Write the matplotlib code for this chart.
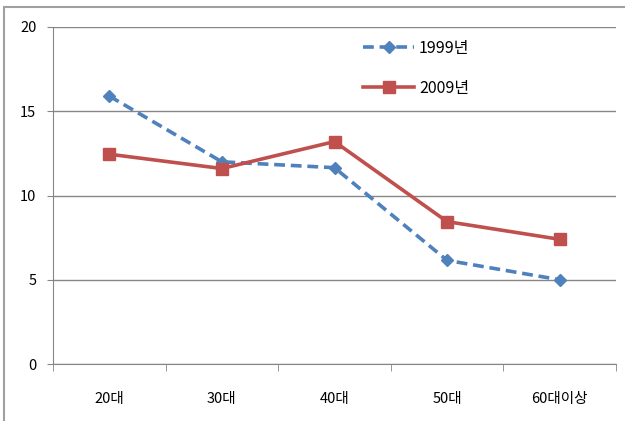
import matplotlib
matplotlib.use("Agg")
import matplotlib.pyplot as plt
from matplotlib.patches import Rectangle

plt.rcParams['font.family'] = ['Noto Sans CJK KR', 'DejaVu Sans']

# data
categories = ['20대', '30대', '40대', '50대', '60대이상']
y1999 = [15.9, 12.0, 11.65, 6.15, 5.0]
y2009 = [12.45, 11.6, 13.2, 8.45, 7.4]
series_names = ['1999년', '2009년']
yticks = [0, 5, 10, 15, 20]

fig = plt.figure(figsize=(6.25, 4.21), dpi=100)
ax = fig.add_axes([53/625, 1 - 364/421, 563/625, 337/421])

x = list(range(len(categories)))
ax.plot(x, y1999, color='#4F81BD', linestyle=(0, (3, 1.6)), linewidth=2.6,
        marker='D', markersize=6, label=series_names[0])
ax.plot(x, y2009, color='#C0504D', linewidth=2.6,
        marker='s', markersize=8, label=series_names[1])

ax.set_xlim(-0.5, len(categories) - 0.5)
ax.set_ylim(0, 20)
ax.set_yticks(yticks)
ax.set_yticklabels([str(v) for v in yticks], fontsize=10.5)
ax.set_xticks(x)
ax.set_xticklabels(categories, fontsize=10.5)
ax.set_xticks([i - 0.5 for i in range(len(categories) + 1)], minor=True)
ax.tick_params(axis='x', which='major', length=0, pad=20)
ax.tick_params(axis='x', which='minor', length=5, color='#868686')
ax.tick_params(axis='y', length=4, color='#868686', pad=8)
ax.grid(axis='y', color='#868686', linewidth=1)
ax.set_axisbelow(True)
for s in ['top', 'right']:
    ax.spines[s].set_visible(False)
for s in ['left', 'bottom']:
    ax.spines[s].set_color('#868686')

ax.legend(loc='upper left', bbox_to_anchor=(0.525, 1.005), frameon=False,
          fontsize=11.5, handlelength=3.2, labelspacing=1.45, handletextpad=0.3)

fig.patches.append(Rectangle((4/625, -0.01), 1.1, 1 - 7/421 + 0.01,
                             transform=fig.transFigure, fill=False,
                             edgecolor='#A0A0A0', linewidth=1.5))

fig.savefig('out.png', dpi=100)
